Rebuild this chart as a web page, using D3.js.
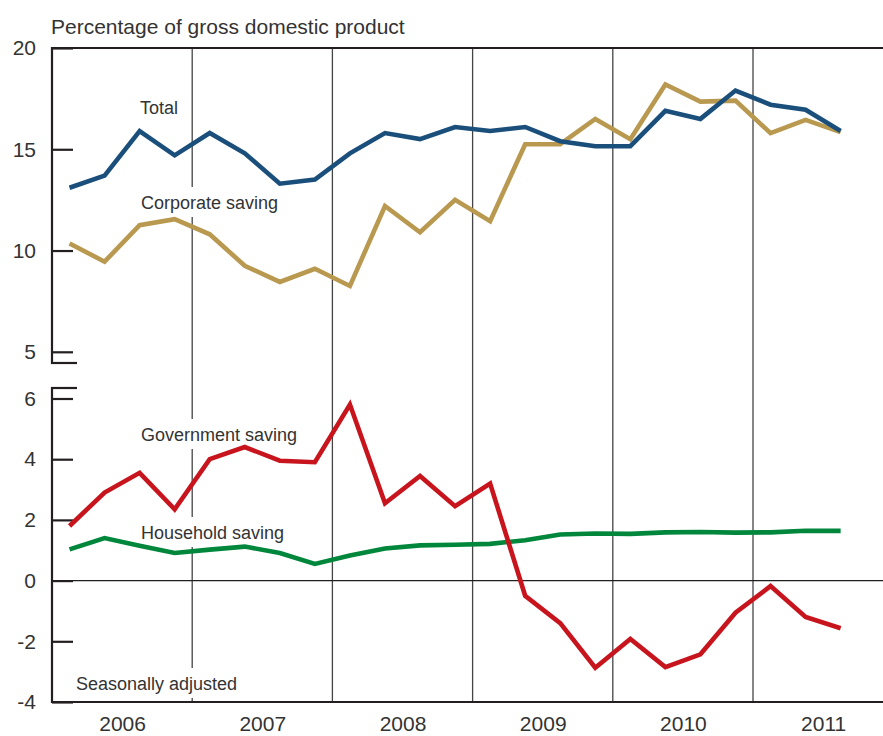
<!DOCTYPE html>
<html>
<head>
<meta charset="utf-8">
<script src="https://cdn.jsdelivr.net/npm/d3@7"></script>
<style>
  html, body { margin: 0; padding: 0; background: #fff; }
  svg { display: block; font-family: "Liberation Sans", Arial, Helvetica, sans-serif; }
</style>
</head>
<body>
<svg id="chart" width="883" height="736"></svg>
<script>
// ---- Data (quarterly, 2006 Q1 – 2011 Q3), percentage of GDP ----
const quarters = [
  "2006Q1","2006Q2","2006Q3","2006Q4",
  "2007Q1","2007Q2","2007Q3","2007Q4",
  "2008Q1","2008Q2","2008Q3","2008Q4",
  "2009Q1","2009Q2","2009Q3","2009Q4",
  "2010Q1","2010Q2","2010Q3","2010Q4",
  "2011Q1","2011Q2","2011Q3"
];
const totalSaving = [13.1, 13.7, 15.9, 14.7, 15.8, 14.8, 13.3, 13.5, 14.8, 15.8, 15.5, 16.1,
                     15.9, 16.1, 15.4, 15.15, 15.15, 16.9, 16.5, 17.9, 17.2, 16.95, 15.9];
const corporateSaving = [10.35, 9.45, 11.25, 11.55, 10.8, 9.25, 8.45, 9.1, 8.25, 12.2, 10.9, 12.5,
                         11.45, 15.25, 15.25, 16.5, 15.5, 18.2, 17.35, 17.4, 15.8, 16.45, 15.85];
const governmentSaving = [1.8, 2.9, 3.55, 2.35, 4.0, 4.4, 3.95, 3.9, 5.8, 2.55, 3.45, 2.45,
                          3.2, -0.5, -1.4, -2.87, -1.92, -2.85, -2.43, -1.06, -0.18, -1.2, -1.57];
const householdSaving = [1.03, 1.4, 1.15, 0.91, 1.02, 1.12, 0.91, 0.55, 0.83, 1.06, 1.16, 1.18,
                         1.21, 1.33, 1.52, 1.55, 1.54, 1.59, 1.6, 1.58, 1.59, 1.64, 1.64];
const years = [2006, 2007, 2008, 2009, 2010, 2011];
const upperTicks = [5, 10, 15, 20];
const lowerTicks = [-4, -2, 0, 2, 4, 6];

const colors = { total: "#1b4f7b", corporate: "#b9994f", government: "#c8151d", household: "#00873c" };
const textColor = "#333333";
const axisColor = "#231f20";

// ---- Layout ----
const plotLeft = 52, plotRight = 883;
const plotTop = 48, plotBottom = 702;
const svg = d3.select("#chart");

const x = d3.scaleLinear().domain([2006, 2012]).range([plotLeft, plotLeft + 6 * 140.2]);
const qx = (i) => x(2006 + Math.floor(i / 4) + ((i % 4) + 0.5) / 4);

const yUp = d3.scaleLinear().domain([5, 20]).range([351.8, plotTop]);
const yLo = d3.scaleLinear().domain([-4, 6]).range([plotBottom, 398.5]);
const upperBottom = 363, lowerTop = 388;

// ---- Vertical year separators ----
svg.append("g").selectAll("line").data(years.slice(1)).join("line")
  .attr("x1", d => x(d)).attr("x2", d => x(d))
  .attr("y1", plotTop).attr("y2", plotBottom)
  .attr("stroke", "#444").attr("stroke-width", 1.3);

// ---- Zero line ----
svg.append("line")
  .attr("x1", plotLeft).attr("x2", plotRight)
  .attr("y1", yLo(0)).attr("y2", yLo(0))
  .attr("stroke", axisColor).attr("stroke-width", 1.1);

// ---- Series labels (white backgrounds interrupt grid lines) ----
const labels = [
  { text: "Total", x: 140, y: 114 },
  { text: "Corporate saving", x: 141, y: 209 },
  { text: "Government saving", x: 141, y: 441 },
  { text: "Household saving", x: 141, y: 539 },
  { text: "Seasonally adjusted", x: 76, y: 690 }
];
const lg = svg.append("g");
labels.forEach(l => {
  const t = lg.append("text")
    .attr("x", l.x).attr("y", l.y)
    .attr("font-size", 18).attr("fill", textColor)
    .text(l.text);
  const bb = t.node().getBBox();
  lg.insert("rect", "text")
    .attr("x", bb.x - 3).attr("y", bb.y - 6)
    .attr("width", bb.width + 6).attr("height", bb.height + 10)
    .attr("fill", "#fff");
});

// ---- Frame ----
svg.append("line").attr("x1", plotLeft).attr("x2", plotRight).attr("y1", plotTop).attr("y2", plotTop)
  .attr("stroke", axisColor).attr("stroke-width", 2.2);
svg.append("line").attr("x1", plotLeft).attr("x2", plotRight).attr("y1", plotBottom).attr("y2", plotBottom)
  .attr("stroke", axisColor).attr("stroke-width", 2.2);
// axis break caps
[upperBottom, lowerTop].forEach(yy => {
  svg.append("line").attr("x1", plotLeft - 1).attr("x2", 77).attr("y1", yy).attr("y2", yy)
    .attr("stroke", axisColor).attr("stroke-width", 2.2);
});

// ---- Y axes ----
const styleAxis = g => {
  g.select(".domain").remove();
  g.selectAll(".tick line").attr("stroke", axisColor).attr("stroke-width", 2.2);
  g.selectAll(".tick text").attr("fill", textColor).attr("font-size", 21)
    .attr("font-family", "Liberation Sans, Arial, sans-serif");
};
svg.append("g").attr("transform", `translate(${plotLeft},0)`)
  .call(d3.axisLeft(yUp).tickValues(upperTicks).tickSizeInner(-21).tickSizeOuter(0).tickPadding(16).tickFormat(d => String(d)))
  .call(styleAxis);
svg.append("g").attr("transform", `translate(${plotLeft},0)`)
  .call(d3.axisLeft(yLo).tickValues(lowerTicks).tickSizeInner(-21).tickSizeOuter(0).tickPadding(16).tickFormat(d => String(d)))
  .call(styleAxis);
// vertical axis lines (with break)
svg.append("line").attr("x1", plotLeft).attr("x2", plotLeft).attr("y1", plotTop - 1).attr("y2", upperBottom + 1)
  .attr("stroke", axisColor).attr("stroke-width", 2.2);
svg.append("line").attr("x1", plotLeft).attr("x2", plotLeft).attr("y1", lowerTop - 1).attr("y2", plotBottom + 1)
  .attr("stroke", axisColor).attr("stroke-width", 2.2);

// ---- X axis labels ----
const xAxis = svg.append("g").attr("transform", `translate(0,${plotBottom})`)
  .call(d3.axisBottom(x).tickValues(years.map(y => y + 0.5)).tickSize(0).tickPadding(14)
        .tickFormat(d => String(Math.floor(d))));
xAxis.select(".domain").remove();
xAxis.selectAll(".tick text").attr("fill", textColor).attr("font-size", 21)
  .attr("font-family", "Liberation Sans, Arial, sans-serif");

// ---- Title ----
svg.append("text").attr("x", 51).attr("y", 34)
  .attr("font-size", 21).attr("fill", textColor)
  .text("Percentage of gross domestic product");

// ---- Lines ----
const lineUp = d3.line().x((d, i) => qx(i)).y(d => yUp(d));
const lineLo = d3.line().x((d, i) => qx(i)).y(d => yLo(d));
const series = [
  { data: corporateSaving, gen: lineUp, color: colors.corporate },
  { data: totalSaving, gen: lineUp, color: colors.total },
  { data: householdSaving, gen: lineLo, color: colors.household },
  { data: governmentSaving, gen: lineLo, color: colors.government }
];
series.forEach(s => {
  svg.append("path").datum(s.data)
    .attr("d", s.gen)
    .attr("fill", "none")
    .attr("stroke", s.color)
    .attr("stroke-width", 4.6)
    .attr("stroke-linejoin", "miter")
    .attr("stroke-linecap", "butt");
});
</script>
</body>
</html>
